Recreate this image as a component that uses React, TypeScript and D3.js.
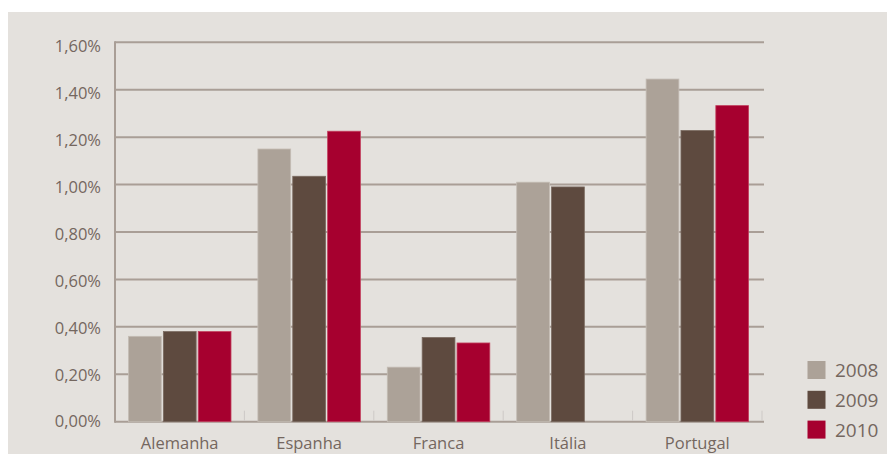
import React from "react";
import * as d3 from "d3";

const categories = ["Alemanha", "Espanha", "Franca", "Itália", "Portugal"];
const years = ["2008", "2009", "2010"];
const values2008 = [0.36, 1.15, 0.23, 1.01, 1.445];
const values2009 = [0.38, 1.035, 0.355, 0.99, 1.228];
const values2010 = [0.38, 1.225, 0.332, null, 1.333];
const yTicks = [0, 0.2, 0.4, 0.6, 0.8, 1.0, 1.2, 1.4, 1.6];
const colors = ["#aca298", "#5e4a3f", "#a6002f"];
const strokes = ["#c4bcb4", "#7a6a60", "#c2405e"];

const W = 887;
const H = 454;

export default function App() {
  const series = [values2008, values2009, values2010];
  const x0 = d3.scaleBand<string>().domain(categories).range([115, 762]).padding(0);
  const x1 = d3
    .scaleBand<string>()
    .domain(years)
    .range([13.5, 116])
    .paddingInner(0.06)
    .paddingOuter(0);
  const y = d3.scaleLinear().domain([0, 1.6]).range([421.7, 42.3]);
  const yLab = d3.scaleLinear().domain([0, 1.6]).range([421.7, 46.3]);
  const fmt = (v: number) => v.toFixed(2).replace(".", ",") + "%";
  const gridColor = "#a99e96";
  const textColor = "#74675f";
  const font = "'Open Sans', sans-serif";

  const tickXs = categories.map((c) => (x0(c) as number) + x0.bandwidth());

  return (
    <svg
      width={W}
      height={H}
      style={{ position: "absolute", left: 0, top: 0, display: "block" }}
    >
      <rect x={0} y={0} width={W} height={H} fill="#ffffff" />
      <rect x={8} y={12} width={W - 8} height={H - 12} fill="#e4e1dd" />

      {/* gridlines */}
      {yTicks.map((t) => (
        <line
          key={"g" + t}
          x1={115}
          x2={764}
          y1={y(t)}
          y2={y(t)}
          stroke={gridColor}
          strokeWidth={2}
        />
      ))}
      <line x1={115} x2={115} y1={y(1.6) - 1} y2={y(0) + 1} stroke={gridColor} strokeWidth={2} />

      {/* small separator ticks */}
      {tickXs.map((tx, i) => (
        <line
          key={"t" + i}
          x1={tx}
          x2={tx}
          y1={y(0) - 11}
          y2={y(0) - 1}
          stroke="#cdc9c6"
          strokeWidth={1}
        />
      ))}

      {/* y labels */}
      {yTicks.map((t) => (
        <text
          key={"l" + t}
          x={101}
          y={yLab(t)}
          dy="0.35em"
          textAnchor="end"
          fontFamily={font}
          fontSize={16.5}
          fill={textColor}
        >
          {fmt(t)}
        </text>
      ))}

      {/* bars */}
      {categories.map((c, ci) => (
        <g key={c} transform={`translate(${x0(c)},0)`}>
          {years.map((yr, si) => {
            const v = series[si][ci];
            if (v === null || v === undefined) return null;
            return (
              <rect
                key={yr}
                x={x1(yr) as number}
                y={y(v)}
                width={x1.bandwidth()}
                height={y(0) - y(v)}
                fill={colors[si]}
                stroke={strokes[si]}
                strokeWidth={0.8}
              />
            );
          })}
        </g>
      ))}

      {/* category labels */}
      {categories.map((c) => (
        <text
          key={"c" + c}
          x={(x0(c) as number) + x0.bandwidth() / 2}
          y={449}
          textAnchor="middle"
          fontFamily={font}
          fontSize={16.5}
          fill={textColor}
        >
          {c}
        </text>
      ))}

      {/* legend */}
      {years.map((yr, i) => (
        <g key={"lg" + yr} transform={`translate(807.5,${361 + i * 29.8})`}>
          <rect x={0} y={0} width={18} height={18} fill={colors[i]} />
          <text
            x={27.5}
            y={9.5}
            dy="0.35em"
            fontFamily={font}
            fontSize={19}
            fill={textColor}
          >
            {yr}
          </text>
        </g>
      ))}
    </svg>
  );
}
